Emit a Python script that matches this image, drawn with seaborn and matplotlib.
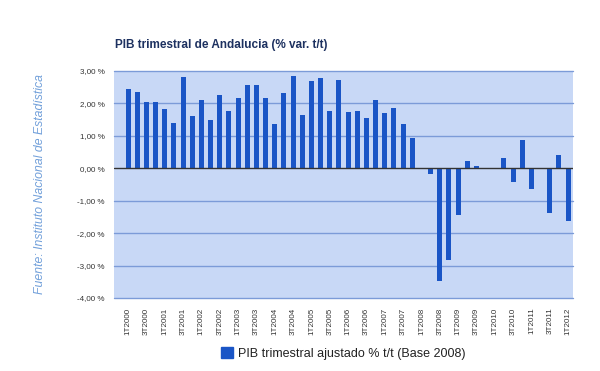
import seaborn as sns
import pandas as pd
import matplotlib.pyplot as plt
from matplotlib.patches import Patch
from matplotlib.ticker import FuncFormatter

quarters = [f'{q}T{y}' for y in range(2000, 2013) for q in (1, 2, 3, 4)][:49]
pib = [2.43, 2.34, 2.05, 2.05, 1.84, 1.41, 2.82, 1.62,
       2.12, 1.50, 2.27, 1.78, 2.18, 2.57, 2.57, 2.18,
       1.38, 2.33, 2.85, 1.65, 2.70, 2.79, 1.78, 2.72,
       1.75, 1.78, 1.56, 2.11, 1.71, 1.87, 1.38, 0.92,
       0.00, -0.17, -3.48, -2.83, -1.43, 0.24, 0.07, -0.03,
       0.01, 0.31, -0.42, 0.86, -0.63, 0.00, -1.37, 0.40,
       -1.63]
serie = 'PIB trimestral ajustado % t/t (Base 2008)'

df = pd.DataFrame({'trimestre': quarters, 'pib': pib})

sns.set_style('white')
plt.rcParams['font.family'] = ['Liberation Sans', 'DejaVu Sans']

bar_color = '#1a55c6'
fig = plt.figure(figsize=(6, 3.71), dpi=100)
ax = fig.add_axes([0.1905, 0.1968, 0.764, 0.6118])
ax.set_facecolor('#c8d8f6')

sns.barplot(data=df, x='trimestre', y='pib', color=bar_color, width=0.55,
            saturation=1, linewidth=0, ax=ax, zorder=3)

ax.set_xlim(-1.5, 48.5)
ax.set_ylim(-4, 3)
ax.set_yticks(range(-4, 4))
ax.yaxis.set_major_formatter(FuncFormatter(lambda v, p: f'{v:.2f}'.replace('.', ',') + ' %'))
for v in range(-4, 4):
    if v != 0:
        ax.axhline(v, color='#7c9bd8', lw=1, zorder=1, clip_on=False)
ax.axhline(0, color='#333333', lw=1, zorder=4)

ax.set_xticks(range(0, 49, 2))
ax.set_xticklabels(quarters[::2], rotation=90, va='top', ha='center')
ax.tick_params(axis='x', length=0, pad=7, labelsize=5.8, labelcolor='#333333')
ax.tick_params(axis='y', length=0, pad=7, labelsize=5.8, labelcolor='#333333')
for s in ax.spines.values():
    s.set_visible(False)
ax.set_xlabel('')
ax.set_ylabel('')

fig.text(0.1915, 0.878, 'PIB trimestral de Andalucia (% var. t/t)', fontsize=8.5,
         fontweight='bold', color='#1d3160', ha='left', va='center')
fig.text(0.067, 0.503, 'Fuente: Instituto Nacional de Estadística', rotation=90,
         fontsize=8.8, style='italic', color='#72a0da', ha='center', va='center')

fig.legend(handles=[Patch(color=bar_color, label=serie)], loc='center',
           bbox_to_anchor=(0.572, 0.048), frameon=False, fontsize=9.0,
           handlelength=1.0, handleheight=1.0, handletextpad=0.4,
           labelcolor='#222222')

fig.savefig('out.png', dpi=100)
